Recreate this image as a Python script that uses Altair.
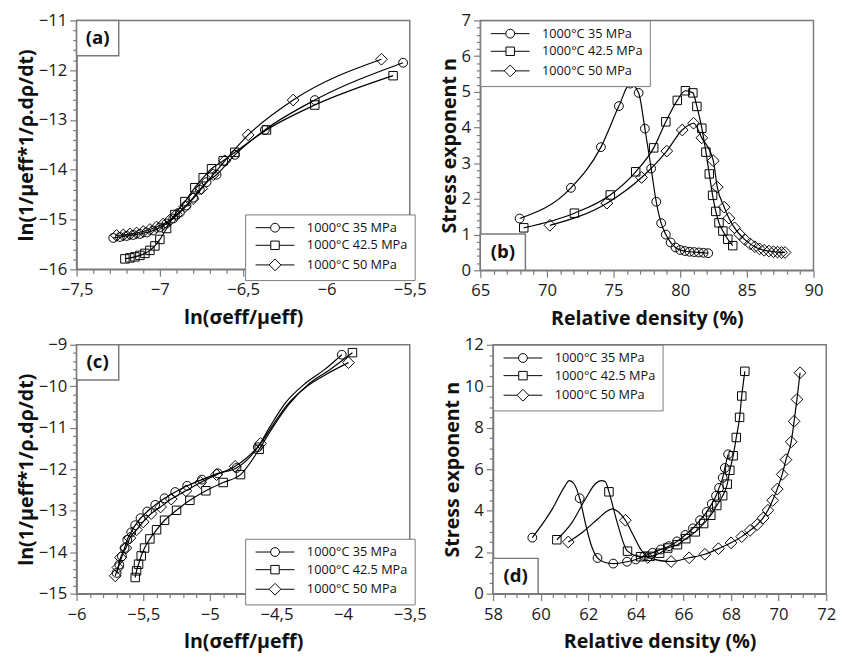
import altair as alt
import pandas as pd

SERIES = ["1000°C 35 MPa", "1000°C 42.5 MPa", "1000°C 50 MPa"]

# ---------------- panel (a) ----------------
A_X_35 = [-7.28, -7.24, -7.20, -7.16, -7.12, -7.08, -7.04, -7.00, -6.96, -6.92, -6.88, -6.84, -6.80, -6.76, -6.72, -6.66, -6.55, -6.37, -6.07, -5.54]
A_Y_35 = [-15.37, -15.35, -15.33, -15.31, -15.29, -15.26, -15.22, -15.16, -15.08, -14.98, -14.86, -14.72, -14.56, -14.40, -14.25, -14.10, -13.70, -13.20, -12.60, -11.85]
A_X_42 = [-7.21, -7.18, -7.15, -7.12, -7.09, -7.06, -7.03, -7.00, -6.96, -6.91, -6.85, -6.79, -6.74, -6.69, -6.62, -6.55, -6.36, -6.07, -5.60]
A_Y_42 = [-15.79, -15.77, -15.75, -15.72, -15.68, -15.62, -15.53, -15.40, -15.18, -14.90, -14.64, -14.36, -14.16, -13.98, -13.82, -13.65, -13.20, -12.70, -12.11]
A_X_50 = [-7.26, -7.22, -7.18, -7.14, -7.10, -7.06, -7.02, -6.98, -6.94, -6.90, -6.85, -6.80, -6.75, -6.68, -6.61, -6.47, -6.20, -5.67]
A_Y_50 = [-15.32, -15.31, -15.29, -15.27, -15.24, -15.20, -15.15, -15.09, -15.01, -14.90, -14.74, -14.58, -14.38, -14.10, -13.82, -13.30, -12.60, -11.78]

# ---------------- panel (b) ----------------
B_X_35 = [67.95, 71.8, 74.05, 75.4, 76.25, 76.88, 77.35, 77.82, 78.2, 78.57, 78.92, 79.28, 79.65, 80.0, 80.35, 80.7, 81.05, 81.4, 81.75, 82.1]
B_Y_35 = [1.45, 2.31, 3.45, 4.6, 5.23, 4.97, 3.97, 2.85, 1.92, 1.32, 1.0, 0.78, 0.64, 0.57, 0.54, 0.52, 0.51, 0.5, 0.49, 0.48]
B_X_42 = [68.26, 72.06, 74.75, 76.66, 78.01, 78.92, 79.78, 80.39, 80.95, 81.25, 81.62, 81.93, 82.18, 82.43, 82.67, 82.91, 83.2, 83.57, 83.94]
B_Y_42 = [1.19, 1.6, 2.11, 2.76, 3.43, 4.16, 4.76, 5.03, 4.97, 4.59, 3.98, 3.31, 2.7, 2.1, 1.65, 1.33, 1.1, 0.87, 0.69]
B_X_50 = [70.22, 74.5, 77.1, 78.99, 80.15, 81.0, 81.62, 82.48, 82.78, 83.3, 83.66, 84.08, 84.45, 84.85, 85.25, 85.6, 85.95, 86.3, 86.65, 87.0, 87.3, 87.6, 87.87]
B_Y_50 = [1.26, 1.88, 2.6, 3.34, 3.93, 4.12, 3.71, 3.07, 2.33, 1.77, 1.46, 1.19, 1.01, 0.86, 0.74, 0.66, 0.6, 0.56, 0.54, 0.52, 0.51, 0.5, 0.5]

# ---------------- panel (c) ----------------
C_X_35 = [-5.70, -5.68, -5.66, -5.64, -5.62, -5.59, -5.56, -5.52, -5.47, -5.41, -5.34, -5.26, -5.17, -5.06, -4.94, -4.80, -4.64, -4.55, -4.43, -4.28, -4.14, -4.01]
C_Y_35 = [-14.50, -14.30, -14.10, -13.90, -13.70, -13.52, -13.35, -13.18, -13.02, -12.86, -12.70, -12.55, -12.40, -12.25, -12.10, -11.97, -11.47, -10.98, -10.39, -9.92, -9.60, -9.24]
C_M_35 = [1] * 17 + [0, 0, 0, 0, 1]
C_X_42 = [-5.56, -5.55, -5.535, -5.515, -5.49, -5.45, -5.40, -5.34, -5.25, -5.15, -5.03, -4.90, -4.77, -4.63, -4.54, -4.41, -4.26, -4.10, -3.93]
C_Y_42 = [-14.61, -14.45, -14.29, -14.09, -13.90, -13.68, -13.46, -13.23, -12.99, -12.75, -12.52, -12.32, -12.13, -11.52, -11.05, -10.45, -9.95, -9.60, -9.19]
C_M_42 = [1] * 14 + [0, 0, 0, 0, 1]
C_X_50 = [-5.71, -5.69, -5.67, -5.63, -5.60, -5.55, -5.50, -5.44, -5.37, -5.29, -5.18, -5.07, -4.95, -4.81, -4.62, -4.53, -4.42, -4.27, -4.12, -3.96]
C_Y_50 = [-14.57, -14.37, -14.13, -13.90, -13.66, -13.46, -13.27, -13.07, -12.91, -12.72, -12.52, -12.32, -12.13, -11.93, -11.38, -10.95, -10.45, -10.00, -9.70, -9.43]
C_M_50 = [1] * 15 + [0, 0, 0, 0, 1]

# ---------------- panel (d) ----------------
D_X_35 = [59.65, 60.5, 61.0, 61.2, 61.4, 61.64, 61.9, 62.12, 62.39, 62.7, 63.05, 63.63, 64.0, 64.36, 64.7, 65.05, 65.39, 65.73, 66.08, 66.4, 66.7, 66.98, 67.19, 67.37, 67.5, 67.65, 67.74, 67.88]
D_Y_35 = [2.7, 4.1, 5.15, 5.45, 5.3, 4.6, 3.3, 2.36, 1.72, 1.5, 1.45, 1.54, 1.65, 1.81, 1.97, 2.13, 2.29, 2.52, 2.83, 3.15, 3.54, 3.94, 4.33, 4.72, 5.1, 5.59, 6.06, 6.72]
D_M_35 = [1, 0, 0, 0, 0, 1, 0, 0, 1, 0, 1] + [1] * 17
D_X_42 = [60.68, 61.3, 61.9, 62.3, 62.55, 62.72, 62.87, 63.2, 63.65, 64.2, 64.6, 65.0, 65.34, 65.75, 66.1, 66.5, 66.85, 67.15, 67.4, 67.65, 67.84, 67.95, 68.09, 68.22, 68.36, 68.45, 68.58]
D_Y_42 = [2.6, 3.4, 4.6, 5.3, 5.45, 5.4, 4.91, 3.5, 2.05, 1.78, 1.8, 1.95, 2.2, 2.36, 2.65, 2.98, 3.38, 3.78, 4.25, 4.72, 5.28, 5.95, 6.65, 7.53, 8.5, 9.53, 10.72]
D_M_42 = [1, 0, 0, 0, 0, 0, 1, 0] + [1] * 19
D_X_50 = [61.16, 61.8, 62.4, 62.8, 63.01, 63.2, 63.56, 63.9, 64.2, 64.5, 65.48, 66.24, 66.9, 67.47, 68.0, 68.45, 68.8, 69.1, 69.35, 69.55, 69.75, 69.94, 70.15, 70.31, 70.53, 70.65, 70.77, 70.9]
D_Y_50 = [2.49, 3.0, 3.6, 3.98, 4.09, 4.0, 3.54, 2.8, 2.15, 1.75, 1.55, 1.73, 1.9, 2.17, 2.45, 2.75, 3.05, 3.33, 3.65, 4.02, 4.5, 5.04, 5.75, 6.46, 7.32, 8.31, 9.37, 10.65]
D_M_50 = [1, 0, 0, 0, 0, 0, 1, 0, 0] + [1] * 19

# ---------------- axis ticks ----------------
A_XMAJ = [-7.5, -7.0, -6.5, -6.0, -5.5]
A_YMAJ = [-16.0, -15.0, -14.0, -13.0, -12.0, -11.0]
B_XMAJ = [65, 70, 75, 80, 85, 90]
B_YMAJ = [0, 1, 2, 3, 4, 5, 6, 7]
C_XMAJ = [-6.0, -5.5, -5.0, -4.5, -4.0, -3.5]
C_YMAJ = [-15.0, -14.0, -13.0, -12.0, -11.0, -10.0, -9.0]
D_XMAJ = [58, 60, 62, 64, 66, 68, 70, 72]
D_YMAJ = [0, 2, 4, 6, 8, 10, 12]

TITLE_LN_X = "ln(σeff/μeff)"
TITLE_LN_Y = "ln(1/μeff*1/ρ.dρ/dt)"
TITLE_RD = "Relative density (%)"
TITLE_N = "Stress exponent n"

FONT = "Open Sans"
GRAY = "#7a7a7a"

MARK_PATHS = [
    "M0.75,0A0.75,0.75,0,1,1,-0.75,0A0.75,0.75,0,1,1,0.75,0Z",
    "M-0.72,-0.72H0.72V0.72H-0.72Z",
    "M-1,0L0,-1L1,0L0,1Z",
]
LEG_PATHS = [
    "M-3.3,0H-0.75M0.75,0H3.3M0.75,0A0.75,0.75,0,1,1,-0.75,0A0.75,0.75,0,1,1,0.75,0Z",
    "M-3.3,0H-0.72M0.72,0H3.3M-0.72,-0.72H0.72V0.72H-0.72Z",
    "M-3.3,0H-1M1,0H3.3M-1,0L0,-1L1,0L0,1Z",
]


def make_df(xs_list, ys_list, ms_list):
    rows = []
    for s, xs, ys, ms in zip(SERIES, xs_list, ys_list, ms_list):
        for x, y, m in zip(xs, ys, ms):
            rows.append({"x": x, "y": y, "s": s, "m": m})
    return pd.DataFrame(rows)


def tick_values(majors, step):
    lo, hi = majors[0], majors[-1]
    n = int(round((hi - lo) / step))
    return [round(lo + i * step, 4) for i in range(n + 1)]


def make_axis(majors, step, title, is_x):
    arr = "[" + ",".join(repr(float(v)) for v in majors) + "]"
    test = f"indexof({arr}, datum.value) >= 0"
    label_expr = (f"{test} ? replace(replace(toString(datum.value), '.', ','), '-', '\u2212') : ''")
    vals = tick_values(majors, step)
    return alt.Axis(
        values=vals,
        tickCount=len(vals) + 5,
        labelExpr=label_expr,
        tickSize={"condition": {"test": test, "value": 7}, "value": 4},
        tickColor=GRAY,
        tickWidth=1.2,
        domainColor=GRAY,
        domainWidth=1.5,
        labelFont=FONT,
        labelFontSize=17,
        labelColor="#1a1a1a",
        labelPadding=6 if is_x else 3,
        labelFlush=False,
        labelOverlap=False,
        grid=False,
        title=title,
        titleFont=FONT,
        titleFontSize=20,
        titleFontWeight="bold",
        titleColor="#111111",
        titlePadding=10 if is_x else 2,
    )


def panel(df, xmaj, xstep, ymaj, ystep, xtitle, ytitle, legend_xy, label, box, height):
    base = alt.Chart(df)
    xenc = alt.X("x:Q", scale=alt.Scale(domain=[xmaj[0], xmaj[-1]], nice=False, zero=False),
                 axis=make_axis(xmaj, xstep, xtitle, True))
    yenc = alt.Y("y:Q", scale=alt.Scale(domain=[ymaj[0], ymaj[-1]], nice=False, zero=False),
                 axis=make_axis(ymaj, ystep, ytitle, False))
    lines = base.mark_line(interpolate="monotone", color="black", strokeWidth=1.2).encode(
        x=xenc, y=yenc, detail="s:N")
    pts = base.transform_filter("datum.m == 1").mark_point(
        filled=False, color="black", strokeWidth=1, size=144, opacity=1).encode(
        x="x:Q", y="y:Q",
        shape=alt.Shape("s:N", scale=alt.Scale(domain=SERIES, range=MARK_PATHS), legend=None))
    leg = base.transform_filter("datum.m == 1").mark_point(
        filled=False, color="black", size=144, opacity=0).encode(
        x="x:Q", y="y:Q",
        shape=alt.Shape("s:N", scale=alt.Scale(domain=SERIES, range=LEG_PATHS),
                        legend=alt.Legend(
                            title=None, orient="none",
                            legendX=legend_xy[0], legendY=legend_xy[1], padding=7,
                            strokeColor=GRAY, fillColor="white",
                            labelFont=FONT, labelFontSize=13, labelColor="#111111",
                            rowPadding=4, symbolSize=144, symbolOpacity=1,
                            symbolStrokeColor="black", symbolStrokeWidth=1,
                            symbolFillColor="transparent",
                            symbolOffset=17, labelOffset=26)))
    lab = alt.Chart(pd.DataFrame({"t": [label]}))
    rect = lab.mark_rect(fill="white", stroke=GRAY, strokeWidth=1.5).encode(
        x=alt.value(box[0]), x2=alt.value(box[1]), y=alt.value(box[2]), y2=alt.value(box[3]))
    txt = lab.mark_text(font=FONT, fontSize=19, fontWeight="bold", color="#111111").encode(
        x=alt.value((box[0] + box[1]) / 2), y=alt.value((box[2] + box[3]) / 2), text="t:N")
    return alt.layer(lines, rect, txt, pts, leg).resolve_scale(shape="independent").properties(
        width=340, height=height)


df_a = make_df([A_X_35, A_X_42, A_X_50], [A_Y_35, A_Y_42, A_Y_50],
               [[1] * len(A_X_35), [1] * len(A_X_42), [1] * len(A_X_50)])
df_b = make_df([B_X_35, B_X_42, B_X_50], [B_Y_35, B_Y_42, B_Y_50],
               [[1] * len(B_X_35), [1] * len(B_X_42), [1] * len(B_X_50)])
df_c = make_df([C_X_35, C_X_42, C_X_50], [C_Y_35, C_Y_42, C_Y_50], [C_M_35, C_M_42, C_M_50])
df_d = make_df([D_X_35, D_X_42, D_X_50], [D_Y_35, D_Y_42, D_Y_50], [D_M_35, D_M_42, D_M_50])

pa = panel(df_a, A_XMAJ, 0.1, A_YMAJ, 0.2, TITLE_LN_X, TITLE_LN_Y, (172, 198), "(a)", (0, 43, 0, 36), 254)
pb = panel(df_b, B_XMAJ, 1, B_YMAJ, 0.2, TITLE_RD, TITLE_N, (0, 0), "(b)", (0, 46, 218, 255), 255)
pc = panel(df_c, C_XMAJ, 0.1, C_YMAJ, 0.2, TITLE_LN_X, TITLE_LN_Y, (172, 198), "(c)", (0, 43, 0, 36), 254)
pd_ = panel(df_d, D_XMAJ, 0.5, D_YMAJ, 0.5, TITLE_RD, TITLE_N, (0, 0), "(d)", (0, 46, 218, 254), 254)

top = alt.hconcat(pa, pb, spacing=72, bounds="flush")
bottom = alt.hconcat(pc, pd_, spacing=85, bounds="flush")

chart = alt.vconcat(top, bottom, spacing=6).properties(
    padding={"left": 8, "top": -4, "right": 0, "bottom": 0}
).configure(font=FONT).configure_view(stroke=GRAY, strokeWidth=1.5)

chart.save("out.html", embed_options={"renderer": "svg", "actions": False})
